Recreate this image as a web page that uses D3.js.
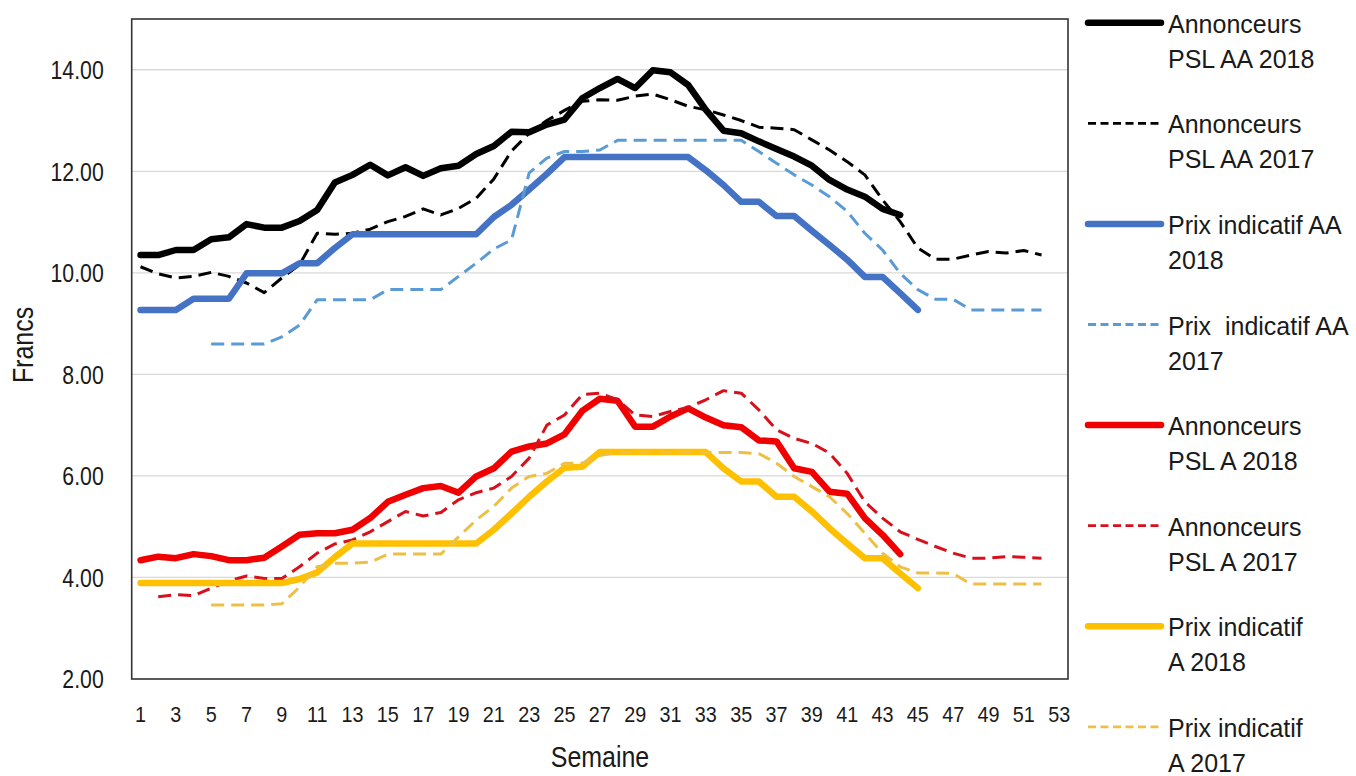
<!DOCTYPE html>
<html>
<head>
<meta charset="utf-8">
<script src="https://cdn.jsdelivr.net/npm/d3@7"></script>
<style>
  html, body { margin: 0; padding: 0; background: #fff; }
  svg { display: block; font-family: "Liberation Sans", Arial, sans-serif; }
  text { white-space: pre; fill: #1a1a1a; }
</style>
</head>
<body>
<svg id="chart" width="1356" height="776"></svg>
<script>
// ---------- DATA (week numbers 1..53; null = no value) ----------
const weeks = d3.range(1, 54);
const xTickLabels = d3.range(1, 54, 2);
const yTickValues = [2, 4, 6, 8, 10, 12, 14];

const seriesNames = [
  ["Annonceurs", "PSL AA 2018"],
  ["Annonceurs", "PSL AA 2017"],
  ["Prix indicatif AA", "2018"],
  ["Prix  indicatif AA", "2017"],
  ["Annonceurs", "PSL A 2018"],
  ["Annonceurs", "PSL A 2017"],
  ["Prix indicatif", "A 2018"],
  ["Prix indicatif", "A 2017"]
];

// Annonceurs PSL AA 2018 (weeks 1-44)
const annAA2018 = [10.35,10.35,10.45,10.45,10.66,10.70,10.96,10.89,10.89,11.02,
  11.24,11.78,11.93,12.13,11.92,12.08,11.91,12.06,12.11,12.34,
  12.50,12.78,12.77,12.92,13.02,13.44,13.64,13.82,13.64,13.99,
  13.95,13.70,13.21,12.80,12.75,12.59,12.44,12.29,12.11,11.83,
  11.64,11.50,11.26,11.14];
// Annonceurs PSL AA 2017 (weeks 1-52)
const annAA2017 = [10.12,9.98,9.90,9.93,10.01,9.93,9.80,9.61,9.90,10.16,
  10.78,10.76,10.78,10.86,11.01,11.11,11.26,11.14,11.27,11.47,
  11.85,12.40,12.75,13.00,13.20,13.38,13.41,13.40,13.48,13.52,
  13.41,13.28,13.21,13.11,13.00,12.87,12.85,12.82,12.62,12.42,
  12.19,11.93,11.44,11.01,10.49,10.27,10.27,10.35,10.42,10.39,
  10.44,10.35];
// Prix indicatif AA 2018 (weeks 1-45)
const prixAA2018 = [9.27,9.27,9.27,9.49,9.49,9.49,9.99,9.99,9.99,10.19,
  10.19,10.49,10.76,10.76,10.76,10.76,10.76,10.76,10.76,10.76,
  11.10,11.34,11.64,11.95,12.28,12.28,12.28,12.28,12.28,12.28,
  12.28,12.28,12.02,11.73,11.40,11.40,11.12,11.12,10.83,10.55,
  10.26,9.92,9.92,9.60,9.27];
// Prix indicatif AA 2017 (weeks 5-52)
const prixAA2017 = [null,null,null,null,8.60,8.60,8.60,8.60,8.74,8.97,
  9.47,9.47,9.47,9.47,9.67,9.67,9.67,9.67,9.93,10.19,
  10.47,10.65,11.97,12.26,12.39,12.39,12.42,12.61,12.61,12.61,
  12.61,12.61,12.61,12.61,12.61,12.39,12.16,11.93,11.73,11.50,
  11.21,10.78,10.45,9.99,9.67,9.48,9.48,9.27,9.27,9.27,
  9.27,9.27];
// Annonceurs PSL A 2018 (weeks 1-44)
const annA2018 = [4.34,4.41,4.38,4.46,4.42,4.34,4.34,4.39,4.61,4.84,
  4.87,4.87,4.94,5.17,5.49,5.63,5.76,5.80,5.67,5.99,
  6.15,6.48,6.58,6.64,6.82,7.28,7.52,7.48,6.97,6.97,
  7.17,7.33,7.15,7.00,6.96,6.70,6.68,6.15,6.08,5.69,
  5.65,5.17,4.84,4.46];
// Annonceurs PSL A 2017 (weeks 2-52)
const annA2017 = [null,3.62,3.66,3.64,3.79,3.93,4.03,3.98,3.98,4.21,
  4.48,4.66,4.74,4.90,5.10,5.30,5.21,5.28,5.53,5.67,
  5.76,5.99,6.35,7.00,7.20,7.60,7.63,7.50,7.20,7.17,
  7.27,7.35,7.50,7.68,7.63,7.30,6.91,6.74,6.64,6.45,
  6.05,5.49,5.17,4.90,4.75,4.61,4.48,4.38,4.38,4.41,
  4.40,4.38];
// Prix indicatif A 2018 (weeks 1-45)
const prixA2018 = [3.89,3.89,3.89,3.89,3.89,3.89,3.89,3.89,3.89,3.97,
  4.10,4.40,4.67,4.67,4.67,4.67,4.67,4.67,4.67,4.67,
  4.94,5.26,5.59,5.89,6.16,6.18,6.47,6.47,6.47,6.47,
  6.47,6.47,6.47,6.15,5.89,5.89,5.59,5.59,5.30,4.97,
  4.67,4.38,4.38,4.08,3.79];
// Prix indicatif A 2017 (weeks 5-52)
const prixA2017 = [null,null,null,null,3.46,3.46,3.46,3.46,3.48,3.81,
  4.21,4.28,4.28,4.30,4.46,4.46,4.46,4.46,4.80,5.13,
  5.40,5.76,5.99,6.05,6.25,6.25,6.40,6.46,6.46,6.46,
  6.46,6.46,6.46,6.46,6.46,6.44,6.25,5.99,5.79,5.59,
  5.26,4.87,4.48,4.21,4.09,4.09,4.08,3.87,3.87,3.87,
  3.87,3.87];

const seriesValues = [annAA2018, annAA2017, prixAA2018, prixAA2017,
                      annA2018, annA2017, prixA2018, prixA2017];

// ---------- STYLES ----------
const styles = [
  {color: "#000000", width: 6.5, dash: null},
  {color: "#000000", width: 3, dash: "13,7"},
  {color: "#4472C4", width: 6.5, dash: null},
  {color: "#5B9BD5", width: 3, dash: "13,7"},
  {color: "#F00000", width: 6.5, dash: null},
  {color: "#D8101C", width: 3, dash: "13,7"},
  {color: "#FFC000", width: 6.5, dash: null},
  {color: "#EDC045", width: 3, dash: "13,7"}
];

// ---------- LAYOUT ----------
const svg = d3.select("#chart");
const plot = {left: 131.7, right: 1068, top: 19, bottom: 679};

const x = d3.scaleBand().domain(weeks).range([plot.left, plot.right]).padding(0);
const xc = w => x(w) + x.bandwidth() / 2;
const y = d3.scaleLinear().domain([2, 15]).range([plot.bottom, plot.top]);

function condense(sel, f) {
  sel.each(function() {
    const w = this.getComputedTextLength();
    d3.select(this).attr("textLength", w * f).attr("lengthAdjust", "spacingAndGlyphs");
  });
}

// gridlines
svg.append("g")
  .selectAll("line")
  .data(yTickValues.filter(v => v > 2))
  .join("line")
  .attr("x1", plot.left).attr("x2", plot.right)
  .attr("y1", d => y(d)).attr("y2", d => y(d))
  .attr("stroke", "#d9d9d9").attr("stroke-width", 1.3);

// y axis
const yAxis = svg.append("g")
  .attr("transform", `translate(${plot.left},0)`)
  .call(d3.axisLeft(y).tickValues(yTickValues).tickFormat(d3.format(".2f")).tickSize(0).tickPadding(28));
yAxis.select(".domain").remove();
yAxis.selectAll("text")
  .attr("font-size", 25).attr("font-family", "Liberation Sans, Arial, sans-serif")
  .attr("fill", "#1a1a1a").attr("dy", "0.35em")
  .call(condense, 0.85);

// x axis
const xAxis = svg.append("g")
  .attr("transform", `translate(0,${plot.bottom})`)
  .call(d3.axisBottom(x).tickValues(xTickLabels).tickSize(0).tickPadding(28));
xAxis.select(".domain").remove();
xAxis.selectAll("text")
  .attr("font-size", 22.5).attr("font-family", "Liberation Sans, Arial, sans-serif")
  .attr("fill", "#1a1a1a").attr("dy", "0.71em")
  .attr("y", 27)
  .call(condense, 0.88);

// axis titles
svg.append("text")
  .attr("x", 600).attr("y", 767)
  .attr("text-anchor", "middle").attr("font-size", 29)
  .text("Semaine").call(condense, 0.86);
svg.append("text")
  .attr("transform", "translate(33,345) rotate(-90)")
  .attr("text-anchor", "middle").attr("font-size", 29)
  .text("Francs").call(condense, 0.86);

// lines
const line = d3.line()
  .defined(d => d.v !== null && d.v !== undefined)
  .x(d => xc(d.w)).y(d => y(d.v));

const linesG = svg.append("g");
seriesValues.forEach((vals, i) => {
  const data = vals.map((v, k) => ({w: weeks[k], v: v}));
  const st = styles[i];
  linesG.append("path")
    .datum(data)
    .attr("d", line)
    .attr("fill", "none")
    .attr("stroke", st.color)
    .attr("stroke-width", st.width)
    .attr("stroke-linejoin", "round")
    .attr("stroke-linecap", st.dash ? "butt" : "round")
    .attr("stroke-dasharray", st.dash);
});

// plot frame
svg.append("rect")
  .attr("x", plot.left).attr("y", plot.top)
  .attr("width", plot.right - plot.left).attr("height", plot.bottom - plot.top)
  .attr("fill", "none").attr("stroke", "#333").attr("stroke-width", 1.6);

// legend
const legend = svg.append("g");
seriesNames.forEach((lines, i) => {
  const ly = 22.7 + i * 100.6;
  const st = styles[i];
  legend.append("line")
    .attr("x1", 1088).attr("x2", 1161).attr("y1", ly).attr("y2", ly)
    .attr("stroke", st.color).attr("stroke-width", st.dash ? 2.8 : 6.5)
    .attr("stroke-linecap", st.dash ? "butt" : "round")
    .attr("stroke-dasharray", st.dash ? "8,4.5" : null);
  lines.forEach((t, j) => {
    legend.append("text")
      .attr("x", 1168).attr("y", ly + 10 + j * 35)
      .attr("font-size", 25)
      .text(t);
  });
});
</script>
</body>
</html>
